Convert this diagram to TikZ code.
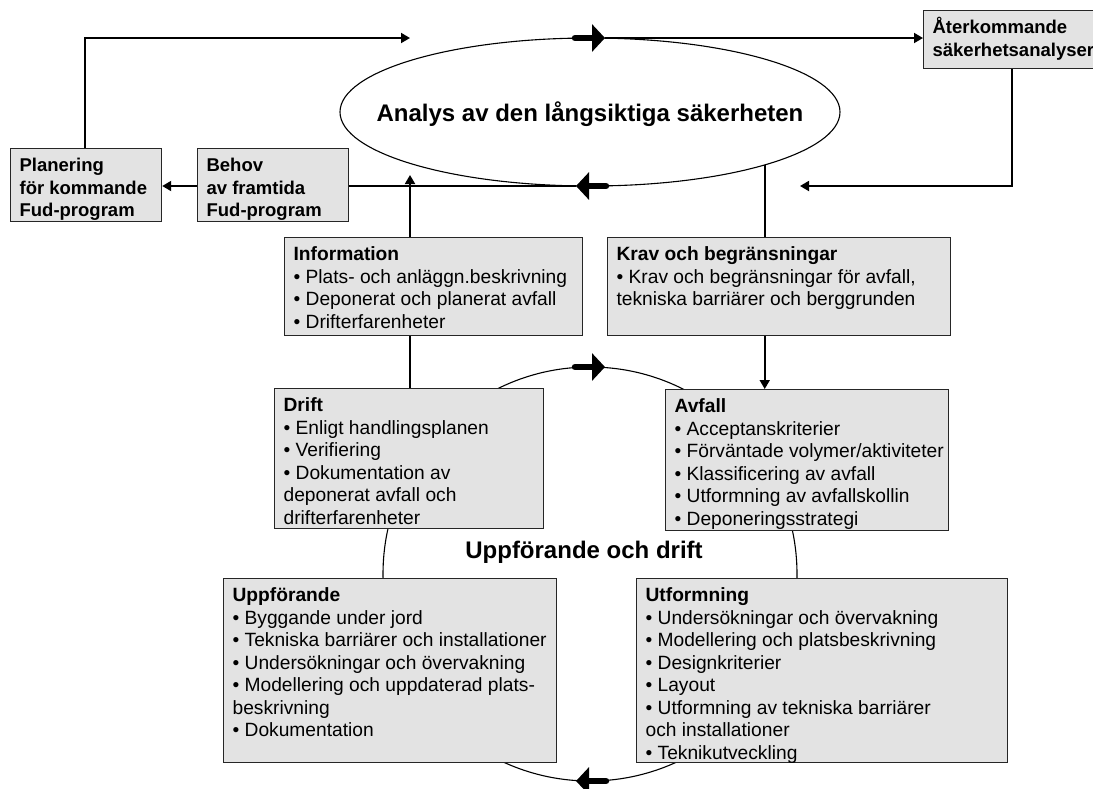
\documentclass[tikz,border=0pt]{standalone}
\usepackage{fontspec}
\setmainfont{Liberation Sans}
\usetikzlibrary{arrows.meta,shapes.geometric}
\newcommand{\bxtext}[3]{\makebox[#1][l]{\parbox[t][#2][t]{500pt}{\rule{0pt}{23pt}#3}}}
\begin{document}
\begin{tikzpicture}[x=1pt,y=-1pt,
  box/.style={draw=black!85, line width=1.2pt, fill=black!11, anchor=north west,
    inner xsep=9pt, inner ysep=0pt, font=\fontsize{19.2}{22.5}\selectfont},
  conn/.style={line width=1.8pt},
  arr/.style={conn, -{Triangle[length=9pt,width=10pt]}},
  fat/.style={line width=6.5pt, line cap=round, -{Triangle[length=13pt,width=27pt]}},
  thin/.style={line width=1.1pt},
  title/.style={font=\bfseries\fontsize{24}{28}\selectfont}]
\useasboundingbox (0,0) rectangle (1093,788);
% ellipse and circle
\node[draw, thin, ellipse, minimum width=500pt, minimum height=148pt, inner sep=0pt] (ana) at (590,112) {};
\node[title] (anat) at (590,114) {Analys av den långsiktiga säkerheten};
\node[draw, thin, circle, minimum size=414pt, inner sep=0pt] (cyc) at (590,574) {};
\node[title] (cyct) at (584,552) {Uppförande och drift};
% boxes
\node[box, font=\fontsize{18.5}{22.5}\selectfont] (plan) at (10,148)
  {\bxtext{133pt}{73pt}{\bfseries Planering\\för kommande\\Fud-program}};
\node[box, font=\fontsize{18.5}{22.5}\selectfont] (behov) at (197,148)
  {\bxtext{133pt}{73pt}{\bfseries Behov\\av framtida\\Fud-program}};
\node[box, font=\fontsize{18.5}{22.5}\selectfont] (ater) at (923,10)
  {\bxtext{172pt}{58pt}{\bfseries Återkommande\\säkerhetsanalyser}};
\node[box] (info) at (284,237)
  {\bxtext{280pt}{98pt}{\textbf{Information}\\• Plats- och anläggn.beskrivning\\• Deponerat och planerat avfall\\• Drifterfarenheter}};
\node[box] (krav) at (607,237)
  {\bxtext{325pt}{98pt}{\textbf{Krav och begränsningar}\\• Krav och begränsningar för avfall,\\tekniska barriärer och berggrunden}};
\node[box] (drift) at (274,388)
  {\bxtext{251pt}{140pt}{\textbf{Drift}\\• Enligt handlingsplanen\\• Verifiering\\• Dokumentation av\\deponerat avfall och\\drifterfarenheter}};
\node[box] (avfall) at (665,389)
  {\bxtext{265pt}{141pt}{\textbf{Avfall}\\• Acceptanskriterier\\• Förväntade volymer/aktiviteter\\• Klassificering av avfall\\• Utformning av avfallskollin\\• Deponeringsstrategi}};
\node[box] (uppf) at (223,578)
  {\bxtext{315pt}{184pt}{\textbf{Uppförande}\\• Byggande under jord\\• Tekniska barriärer och installationer\\• Undersökningar och övervakning\\• Modellering och uppdaterad plats-\\beskrivning\\• Dokumentation}};
\node[box] (utf) at (636,578)
  {\bxtext{353pt}{184pt}{\textbf{Utformning}\\• Undersökningar och övervakning\\• Modellering och platsbeskrivning\\• Designkriterier\\• Layout\\• Utformning av tekniska barriärer\\och installationer\\• Teknikutveckling}};
% helper coordinates
\coordinate (tl) at (85,38);
\coordinate (tlend) at (410,38);
\coordinate (ttail) at (575,38);
\coordinate (ttip) at (605,38);
\coordinate (btail) at (606,186);
\coordinate (btip) at (576,186);
\coordinate (rline) at (1012,186);
\coordinate (rend) at (800,186);
\coordinate (ia) at (410,175);
\coordinate (ctail) at (575,367);
\coordinate (ctip) at (605,367);
\coordinate (dtail) at (606,781);
\coordinate (dtip) at (576,781);
% connectors
\draw[arr] (plan.north -| tl) -- (tl) -- (tlend);
\draw[fat] (ttail) -- (ttip);
\draw[arr] (ttip) -- (ater.west |- ttip);
\draw[arr] (ater.south -| rline) -- (rline) -- (rend);
\draw[fat] (btail) -- (btip);
\draw[conn] (btip) -- (behov.east |- btip);
\draw[arr] (behov.west |- btip) -- (plan.east |- btip);
\draw[arr] (info.north -| ia) -- (ia);
\draw[conn] (drift.north -| ia) -- (info.south -| ia);
\draw[conn] (ana.-17.6) -- (krav.north -| ana.-17.6);
\draw[arr] (krav.south -| ana.-17.6) -- (avfall.north -| ana.-17.6);
\draw[fat] (ctail) -- (ctip);
\draw[fat] (dtail) -- (dtip);
\end{tikzpicture}
\end{document}
